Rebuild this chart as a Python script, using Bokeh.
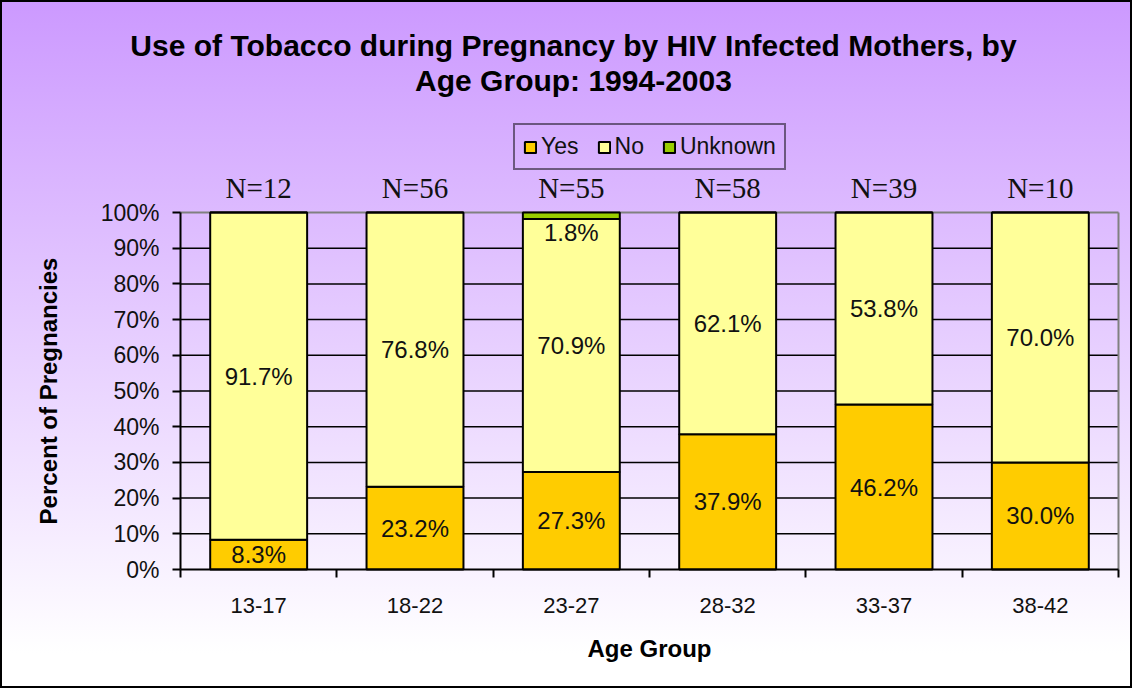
import math
from bokeh.plotting import figure
from bokeh.models import (ColumnDataSource, FixedTicker, LinearAxis, Range1d, Legend, LegendItem,
                          LabelSet, Label)
from bokeh.core.properties import value
from bokeh.embed import file_html
from bokeh.resources import INLINE

groups = ["13-17", "18-22", "23-27", "28-32", "33-37", "38-42"]
yes = [8.3, 23.2, 27.3, 37.9, 46.2, 30.0]
no = [91.7, 76.8, 70.9, 62.1, 53.8, 70.0]
unknown = [0.0, 0.0, 1.8, 0.0, 0.0, 0.0]
n_counts = [12, 56, 55, 58, 39, 10]
y_ticks = [0, 10, 20, 30, 40, 50, 60, 70, 80, 90, 100]
title_lines = ["Use of Tobacco during Pregnancy by HIV Infected Mothers, by",
               "Age Group: 1994-2003"]
x_title = "Age Group"
y_title = "Percent of Pregnancies"

colors = {"Yes": "#FFCC00", "No": "#FFFF99", "Unknown": "#99CC00"}

# layout (pixels) of the plotting area inside the 1132x688 canvas
W, H = 1132, 688
area_left, area_right, area_top, area_bottom = 180, 1118, 212, 569
ng = len(groups)
px_x = (area_right - area_left) / ng
px_y = (area_bottom - area_top) / 100.0
x_range = Range1d(-area_left / px_x, ng + (W - area_right) / px_x)
y_range = Range1d(-(H - area_bottom) / px_y, area_bottom / px_y)

xc = [i + 0.5 for i in range(ng)]
src = ColumnDataSource(dict(
    x=xc, Yes=yes, No=no, Unknown=unknown,
    yes_mid=[y / 2 for y in yes],
    no_mid=[y + n / 2 for y, n in zip(yes, no)],
    unk_base=[y + n for y, n in zip(yes, no)],
    total=[y + n + u for y, n, u in zip(yes, no, unknown)],
    yes_lbl=[f"{v:.1f}%" for v in yes],
    no_lbl=[f"{v:.1f}%" for v in no],
    unk_lbl=[f"{v:.1f}%" if v > 0 else "" for v in unknown],
    n_lbl=[f"N={n}" for n in n_counts],
))

p = figure(width=W, height=H, output_backend="svg", toolbar_location=None,
           x_range=x_range, y_range=y_range,
           min_border_left=0, min_border_right=0, min_border_top=0, min_border_bottom=0,
           x_axis_location=None, y_axis_location=None)
p.title.visible = False
p.background_fill_alpha = 0
p.border_fill_alpha = 0
p.outline_line_color = None
p.styles = {"background": "linear-gradient(to bottom, #CC99FF 0%, #FFFFFF 95%)",
            "outline": "2px solid black", "outline-offset": "-2px"}
p.xgrid.visible = False
p.ygrid.visible = False

# horizontal grid lines (10%..90%)
gl = y_ticks[1:-1]
p.segment(x0=[0] * len(gl), y0=gl, x1=[ng] * len(gl), y1=gl,
          line_color="black", line_width=1.5, level="underlay")
# gray top/right borders of the plot area
p.segment(x0=[0, ng], y0=[100, 0], x1=[ng, ng], y1=[100, 100],
          line_color="#808080", line_width=2, level="underlay")

# y axis
yaxis = LinearAxis(ticker=FixedTicker(ticks=y_ticks), bounds=(0, 100), fixed_location=0,
                   major_label_overrides={t: f"{t}%" for t in y_ticks},
                   axis_line_width=2, axis_line_color="black",
                   major_tick_line_width=2, major_tick_line_color="black",
                   major_tick_out=8, major_tick_in=0, minor_tick_line_color=None,
                   major_label_text_font="Liberation Sans", major_label_text_font_size="23px",
                   major_label_text_color="#111111", major_label_standoff=13)
p.add_layout(yaxis, "left")

# x axis with boundary ticks
xaxis1 = LinearAxis(ticker=FixedTicker(ticks=list(range(ng + 1))), bounds=(0, ng), fixed_location=0,
                    major_label_overrides={i: "" for i in range(ng + 1)},
                    axis_line_width=2, axis_line_color="black",
                    major_tick_line_width=2, major_tick_line_color="black",
                    major_tick_out=8, major_tick_in=0, minor_tick_line_color=None,
                    major_label_text_font_size="1px", major_label_standoff=0)
p.add_layout(xaxis1, "below")
xaxis2 = LinearAxis(ticker=FixedTicker(ticks=xc), fixed_location=0,
                    major_label_overrides={x: g for x, g in zip(xc, groups)},
                    axis_line_color=None, major_tick_line_color=None, minor_tick_line_color=None,
                    major_tick_out=0, major_tick_in=0,
                    major_label_text_font="Liberation Sans", major_label_text_font_size="22px",
                    major_label_text_color="#111111", major_label_standoff=28)
p.add_layout(xaxis2, "below")

rs = p.vbar_stack(["Yes", "No", "Unknown"], x="x", width=0.62, source=src,
                  color=[colors["Yes"], colors["No"], colors["Unknown"]],
                  line_color="black", line_width=2)

lbl_kw = dict(text_font=value("Liberation Sans"), text_font_size="24px", text_color="#111111",
              text_align="center", text_baseline="middle")
p.add_layout(LabelSet(x="x", y="yes_mid", text="yes_lbl", source=src, **lbl_kw))
p.add_layout(LabelSet(x="x", y="no_mid", text="no_lbl", source=src, **lbl_kw))
p.add_layout(LabelSet(x="x", y="unk_base", text="unk_lbl", source=src, y_offset=0,
                      **{**lbl_kw, "text_baseline": "top"}))
p.add_layout(LabelSet(x="x", y="total", text="n_lbl", source=src, y_offset=15,
                      text_font=value("Liberation Serif"), text_font_size="29px", text_color="#111111",
                      text_align="center", text_baseline="alphabetic"))

legend = Legend(items=[LegendItem(label=k, renderers=[r]) for k, r in zip(["Yes", "No", "Unknown"], rs)],
                location=(513, H - 170), orientation="horizontal",
                label_text_font="Liberation Sans", label_text_font_size="23px",
                label_text_color="#111111", glyph_width=14, glyph_height=14,
                label_standoff=4, spacing=18, padding=8, margin=0,
                background_fill_alpha=0, border_line_color="black", border_line_width=2,
                label_height=22)
p.add_layout(legend, "center")

for i, line in enumerate(title_lines):
    p.add_layout(Label(x=573, y=H - 45 - 35 * i, x_units="screen", y_units="screen", text=line,
                       text_font="Liberation Sans", text_font_size="30px",
                       text_font_style="bold", text_color="black",
                       text_align="center", text_baseline="middle"))

p.add_layout(Label(x=(area_left + area_right) / 2, y=H - 648, x_units="screen", y_units="screen",
                   text=x_title, text_font="Liberation Sans", text_font_size="24px",
                   text_font_style="bold", text_color="black",
                   text_align="center", text_baseline="middle"))
p.add_layout(Label(x=48, y=H - (area_top + area_bottom) / 2, x_units="screen", y_units="screen",
                   text=y_title, angle=math.pi / 2, text_font="Liberation Sans", text_font_size="24px",
                   text_font_style="bold", text_color="black",
                   text_align="center", text_baseline="middle"))

open("out.html", "w").write(file_html(p, INLINE))
